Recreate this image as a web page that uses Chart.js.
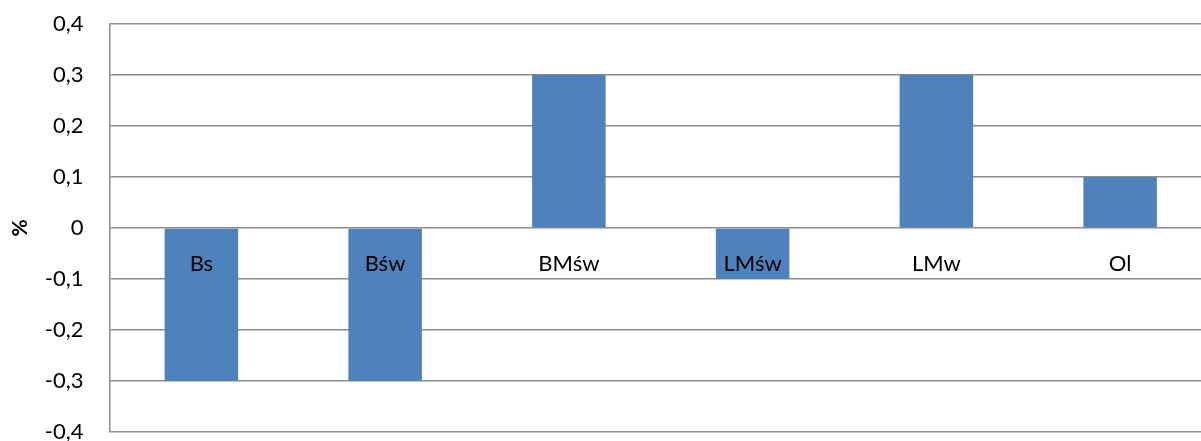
<!DOCTYPE html>
<html>
<head>
<meta charset="utf-8">
<script src="https://cdn.jsdelivr.net/npm/chart.js@4/dist/chart.umd.min.js"></script>
<style>
  html, body { margin: 0; padding: 0; background: #fff; overflow: hidden; }
  #wrap { width: 1201px; height: 441px; overflow: hidden; }
</style>
</head>
<body>
<!-- canvas is a bit wider than the window: the plot runs past the right edge in the original -->
<div id="wrap"><canvas id="myChart" width="1212" height="441"></canvas></div>
<script>
var categories = ['Bs', 'Bśw', 'BMśw', 'LMśw', 'LMw', 'Ol'];
var values = [-0.3, -0.3, 0.3, -0.1, 0.3, 0.1];
var yMin = -0.4;
var yMax = 0.4;
var yStep = 0.1;
var yTitle = '%';

var FONT = 'Lato, "Open Sans", sans-serif';

// category names sit just under the zero line, like in the original
var zeroLabels = {
    id: 'zeroLabels',
    afterDatasetsDraw: function (chart) {
        var ctx = chart.ctx;
        var x = chart.scales.x;
        var y = chart.scales.y;
        var y0 = y.getPixelForValue(0);
        ctx.save();
        ctx.font = '22px ' + FONT;
        ctx.fillStyle = '#000';
        ctx.textAlign = 'center';
        ctx.textBaseline = 'middle';
        categories.forEach(function (c, i) {
            ctx.fillText(c, x.getPixelForValue(i), y0 + 36);
        });
        ctx.restore();
    }
};

function DrawChart() {
    var ctx = document.getElementById('myChart').getContext('2d');

    var myChart = new Chart(ctx, {
        type: 'bar',
        data: {
            labels: categories,
            datasets: [{
                label: '',
                data: values,
                backgroundColor: '#4F81BD',
                borderWidth: 0,
                barPercentage: 0.4,
                categoryPercentage: 1
            }]
        },
        options: {
            responsive: false,
            animation: false,
            layout: { padding: { top: 24, right: 0, bottom: 9, left: 8 } },
            plugins: {
                legend: { display: false },
                tooltip: { enabled: false }
            },
            scales: {
                x: {
                    display: false
                },
                y: {
                    min: yMin,
                    max: yMax,
                    afterFit: function (s) {
                        s.width = 101.5;
                        s.paddingTop = 0;
                        s.paddingBottom = 0;
                    },
                    ticks: {
                        stepSize: yStep,
                        padding: 26,
                        color: '#000',
                        font: { family: FONT, size: 22 },
                        callback: function (v) {
                            var r = Math.round(v * 10) / 10;
                            if (r === 0) return '0';
                            return r.toFixed(1).replace('.', ',');
                        }
                    },
                    grid: { color: '#8c8c8c', lineWidth: 1.5, drawTicks: false },
                    border: { color: '#8c8c8c', width: 1.5 },
                    title: {
                        display: true,
                        text: yTitle,
                        color: '#000',
                        font: { family: FONT, size: 21, weight: 'bold' },
                        padding: { top: 0, bottom: 10 }
                    }
                }
            }
        },
        plugins: [zeroLabels]
    });
}

DrawChart();
</script>
</body>
</html>
